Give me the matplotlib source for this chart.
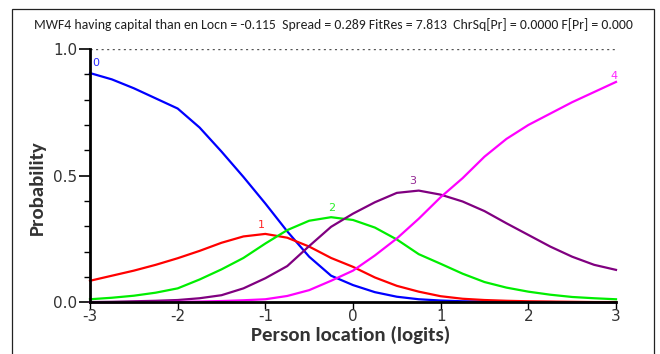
import matplotlib
matplotlib.use('Agg')
import matplotlib.pyplot as plt
import numpy as np
from matplotlib.ticker import MultipleLocator
from matplotlib.patches import Rectangle

plt.rcParams['axes.unicode_minus'] = False

# person location grid (logits) and category probability curves
loc = [-3.0, -2.75, -2.5, -2.25, -2.0, -1.75, -1.5, -1.25, -1.0, -0.75, -0.5, -0.25,
       0.0, 0.25, 0.5, 0.75, 1.0, 1.25, 1.5, 1.75, 2.0, 2.25, 2.5, 2.75, 3.0]
cat0 = [0.905, 0.88, 0.845, 0.805, 0.765, 0.69, 0.595, 0.495, 0.39, 0.28, 0.18, 0.105,
        0.068, 0.04, 0.022, 0.012, 0.007, 0.004, 0.003, 0.002, 0.001, 0.001, 0.0, 0.0, 0.0]
cat1 = [0.085, 0.105, 0.125, 0.148, 0.174, 0.203, 0.235, 0.26, 0.27, 0.255, 0.22, 0.175,
        0.14, 0.098, 0.065, 0.042, 0.024, 0.014, 0.009, 0.006, 0.004, 0.003, 0.002, 0.001, 0.001]
cat2 = [0.012, 0.018, 0.026, 0.038, 0.055, 0.09, 0.13, 0.175, 0.232, 0.285, 0.322, 0.336,
        0.325, 0.295, 0.248, 0.19, 0.152, 0.113, 0.08, 0.058, 0.042, 0.03, 0.021, 0.016, 0.012]
cat3 = [0.001, 0.002, 0.004, 0.006, 0.009, 0.016, 0.028, 0.055, 0.095, 0.143, 0.222, 0.298,
        0.35, 0.395, 0.432, 0.441, 0.425, 0.398, 0.36, 0.312, 0.266, 0.22, 0.18, 0.148, 0.128]
cat4 = [0.0, 0.0, 0.001, 0.001, 0.002, 0.003, 0.005, 0.008, 0.012, 0.025, 0.048, 0.085,
        0.125, 0.185, 0.252, 0.33, 0.415, 0.49, 0.575, 0.645, 0.70, 0.745, 0.79, 0.83, 0.87]
cat_names = ['0', '1', '2', '3', '4']
cat_colors = ['#0000ff', '#ff0000', '#00ee00', '#800080', '#ff00ff']
# where each curve label sits (x, y)
label_pos = [(-2.93, 0.925), (-1.04, 0.285), (-0.24, 0.352), (0.68, 0.458), (2.98, 0.872)]

title = ('MWF4 having capital than en Locn = -0.115  Spread = 0.289 FitRes = 7.813  '
         'ChrSq[Pr] = 0.0000 F[Pr] = 0.000')

fig = plt.figure(figsize=(6.6, 3.54), dpi=100)
ax = fig.add_axes([90/660, 1-302.3/354, (616-90)/660, (302.3-49)/354])

# outer frame round the whole chart
fig.patches.append(Rectangle((12/660, -0.1), (654-12)/660, 1.1 - 9/354,
                             transform=fig.transFigure, fill=False,
                             edgecolor='#222222', linewidth=0.9))

fig.text(333/660, 1-25/354, title, ha='center', va='center', fontsize=9.9,
         family=['Carlito', 'DejaVu Sans'], color='#222222')

ax.plot([-3, 3], [1, 1], color='#555555', linestyle=(0, (1.5, 2.5)), linewidth=1.0)

for vals, c in zip([cat0, cat1, cat2, cat3, cat4], cat_colors):
    ax.plot(loc, vals, color=c, linewidth=1.6, clip_on=False)
for name, c, (lx, ly) in zip(cat_names, cat_colors, label_pos):
    ax.text(lx, ly, name, color=c, fontsize=8, ha='center', va='bottom',
            family='DejaVu Sans', alpha=0.85)

ax.set_xlim(-3, 3)
ax.set_ylim(0, 1)
for s in ['top', 'right']:
    ax.spines[s].set_visible(False)
ax.spines['left'].set_linewidth(2.0)
ax.spines['bottom'].set_linewidth(2.0)

ax.set_xticks([-3, -2, -1, 0, 1, 2, 3])
ax.set_yticks([0.0, 0.5, 1.0])
ax.set_yticklabels(['0.0', '0.5', '1.0'])
ax.yaxis.set_minor_locator(MultipleLocator(0.1))
ax.tick_params(axis='y', which='major', direction='out', length=8, width=1.2,
               labelsize=11, pad=1)
ax.tick_params(axis='y', which='minor', direction='out', length=4, width=1.0)
ax.tick_params(axis='x', which='major', direction='out', length=5, width=1.0,
               labelsize=11, pad=0)
for lab in ax.get_xticklabels() + ax.get_yticklabels():
    lab.set_color('#333333')

ax.set_ylabel('Probability', fontsize=15, fontweight='bold', color='#333333',
              family='Carlito', va='center')
ax.yaxis.set_label_coords(-0.1008, 0.453)
ax.set_xlabel('Person location (logits)', fontsize=15, fontweight='bold', color='#333333',
              family='Carlito')
ax.xaxis.set_label_coords(0.496, -0.094)

fig.savefig('out.png', dpi=100)
